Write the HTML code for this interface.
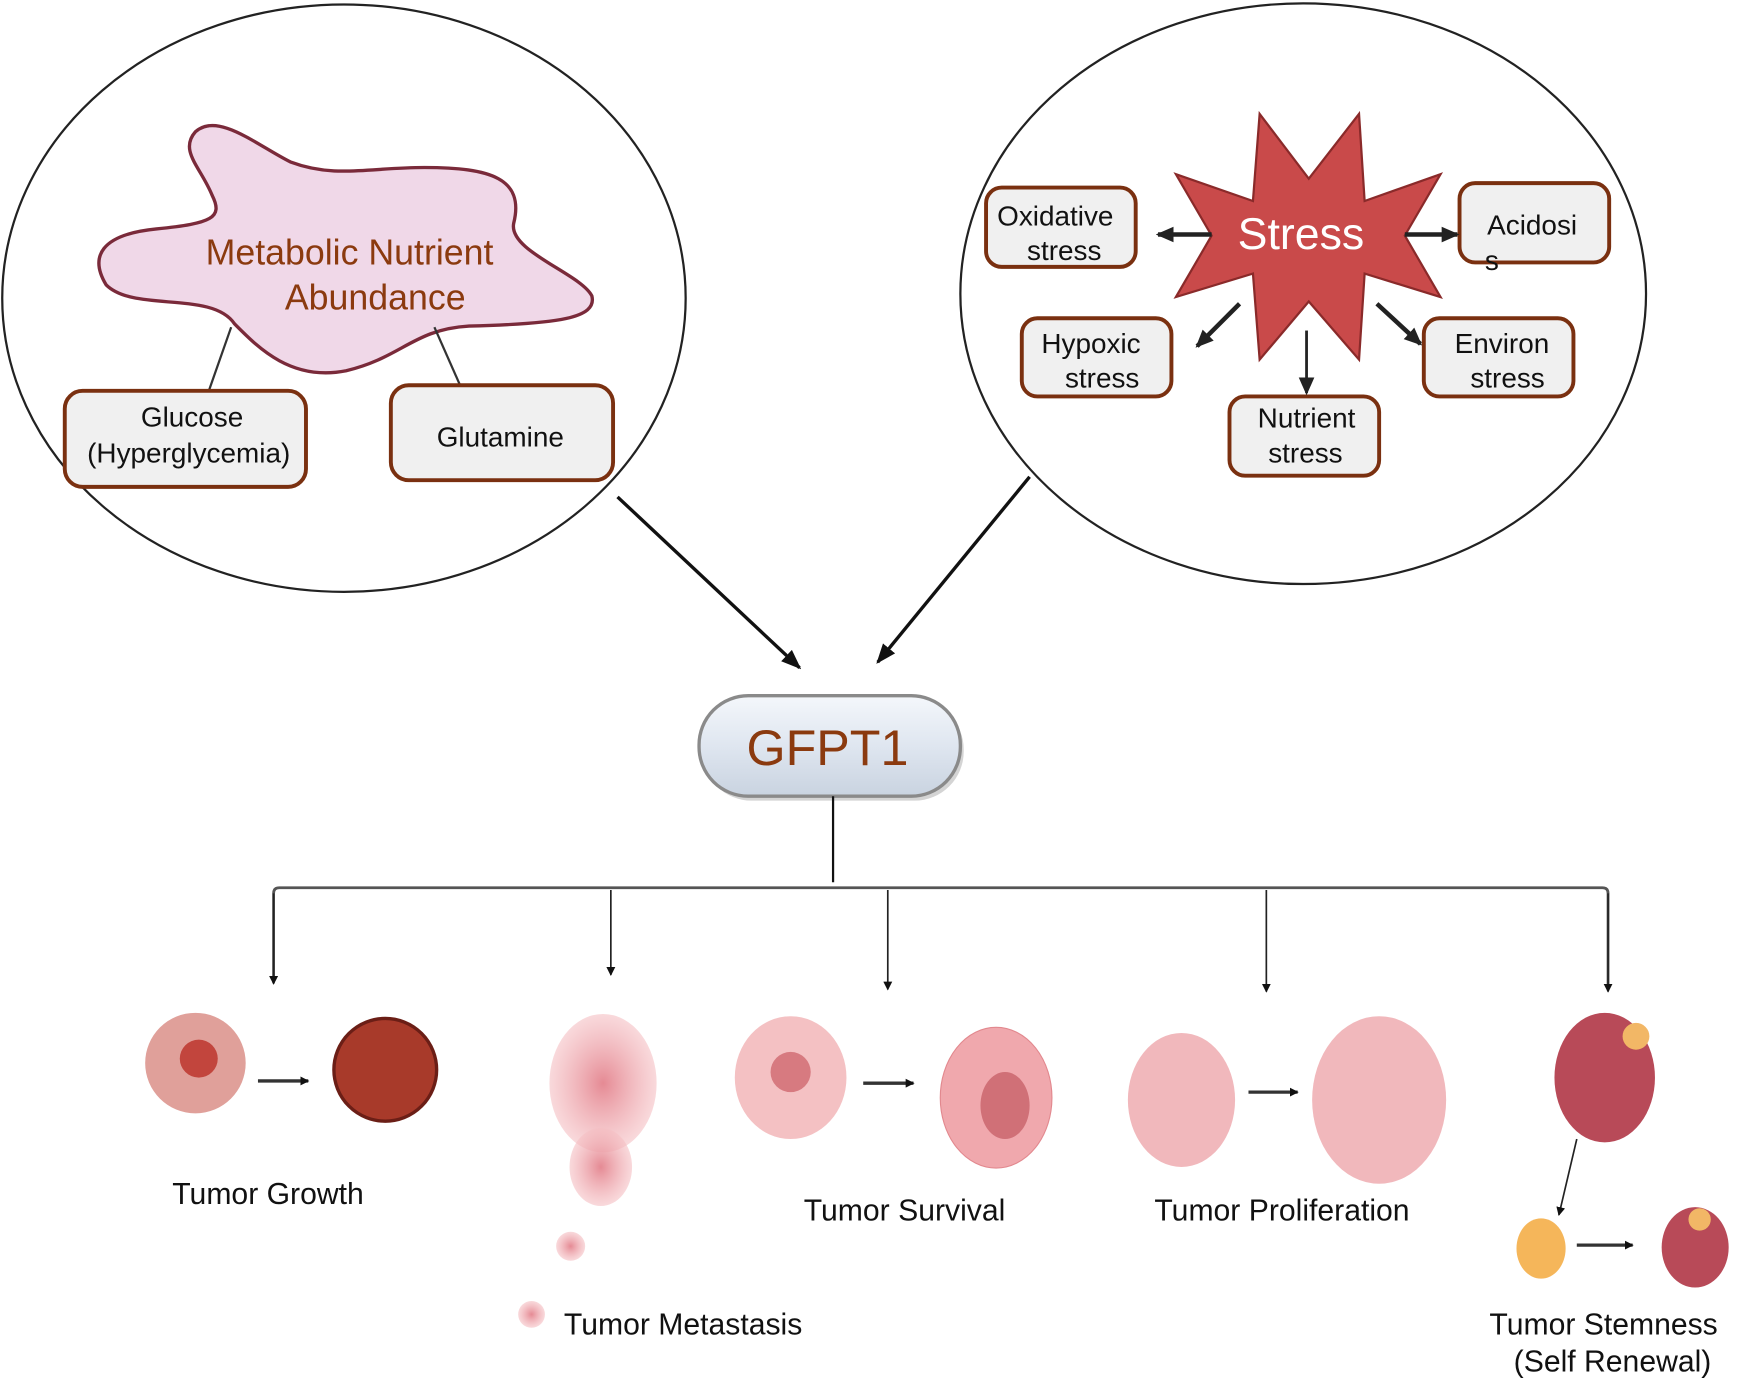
<!DOCTYPE html>
<html><head><meta charset="utf-8"><style>
html,body{margin:0;padding:0;background:#fff;}
svg{display:block;}
text{font-family:"Liberation Sans",sans-serif;}
</style></head><body>
<svg width="1751" height="1378" viewBox="0 0 1568 1234" preserveAspectRatio="none" xmlns="http://www.w3.org/2000/svg">
<defs>
<marker id="a" markerWidth="8" markerHeight="8" refX="7" refY="4" orient="auto" markerUnits="userSpaceOnUse"><path d="M0,0 L8,4 L0,8 Z" fill="#111"/></marker>
<marker id="b" markerWidth="18" markerHeight="18" refX="16" refY="9" orient="auto" markerUnits="userSpaceOnUse"><path d="M0,2 L18,9 L0,16 Z" fill="#111"/></marker>
<marker id="c" markerWidth="16" markerHeight="16" refX="14" refY="8" orient="auto" markerUnits="userSpaceOnUse"><path d="M0,1 L16,8 L0,15 Z" fill="#222"/></marker>
<linearGradient id="g" x1="0" y1="0" x2="0" y2="1"><stop offset="0" stop-color="#f4f7fb"/><stop offset="0.5" stop-color="#dfe6f0"/><stop offset="1" stop-color="#c9d3e0"/></linearGradient>
<radialGradient id="p1"><stop offset="0" stop-color="#e58a94"/><stop offset="1" stop-color="#f5c0c4" stop-opacity="0.6"/></radialGradient>
</defs>
<ellipse cx="308" cy="267" rx="306" ry="263" fill="none" stroke="#222" stroke-width="2"/>
<ellipse cx="1167" cy="263" rx="307" ry="260" fill="none" stroke="#222" stroke-width="2"/>
<path d="M175,118 C195,100 230,130 260,145 C300,160 330,150 380,150 C440,150 470,160 460,200 C455,225 520,245 530,265 C535,285 500,290 420,292 C370,295 360,320 310,332 C260,342 230,310 210,290 C190,260 120,280 95,255 C80,230 90,210 140,205 C190,200 200,195 190,175 C180,150 160,135 175,118 Z" fill="#f0d8e8" stroke="#7a2a3a" stroke-width="3"/>
<text x="313" y="237" font-size="32" fill="#8b3a0f" text-anchor="middle">Metabolic Nutrient</text>
<text x="336" y="277" font-size="32" fill="#8b3a0f" text-anchor="middle">Abundance</text>
<line x1="207" y1="293" x2="187" y2="350" stroke="#333" stroke-width="2"/>
<line x1="389" y1="293" x2="412" y2="345" stroke="#333" stroke-width="2"/>
<g fill="#f0f0f0" stroke="#7a3010" stroke-width="3.5">
<rect x="58" y="350" width="216" height="86" rx="16"/>
<rect x="350" y="345" width="199" height="85" rx="16"/>
<rect x="883" y="168" width="134" height="71" rx="14"/>
<rect x="1307" y="164" width="134" height="71" rx="14"/>
<rect x="915" y="285" width="134" height="70" rx="14"/>
<rect x="1275" y="285" width="134" height="70" rx="14"/>
<rect x="1101" y="355" width="134" height="71" rx="14"/>
</g>
<g font-size="25" fill="#111" text-anchor="middle">
<text x="172" y="382">Glucose</text><text x="169" y="414">(Hyperglycemia)</text>
<text x="448" y="400">Glutamine</text>
<text x="945" y="202">Oxidative</text><text x="953" y="233">stress</text>
<text x="1372" y="210">Acidosi</text><text x="1336" y="242">s</text>
<text x="977" y="316">Hypoxic</text><text x="987" y="347">stress</text>
<text x="1345" y="316">Environ</text><text x="1350" y="347">stress</text>
<text x="1170" y="383">Nutrient</text><text x="1169" y="414">stress</text>
</g>
<path d="M1128,102 L1172,160 L1217,102 L1222,180 L1290,156 L1258,211 L1290,266 L1222,245 L1217,322 L1172,270 L1128,322 L1122,245 L1053,266 L1085,211 L1053,156 L1122,180 Z" fill="#c94a4a" stroke="#8a2a2a" stroke-width="2"/>
<text x="1165" y="223" font-size="40" fill="#fff" text-anchor="middle">Stress</text>
<g stroke="#222" stroke-width="4">
<line x1="1085" y1="210" x2="1037" y2="210" marker-end="url(#c)"/>
<line x1="1258" y1="210" x2="1305" y2="210" marker-end="url(#c)"/>
<line x1="1110" y1="272" x2="1072" y2="310" marker-end="url(#c)"/>
<line x1="1170" y1="296" x2="1170" y2="352" stroke-width="2.5" marker-end="url(#c)"/>
<line x1="1233" y1="272" x2="1272" y2="308" marker-end="url(#c)"/>
</g>
<line x1="553" y1="445" x2="716" y2="598" stroke="#111" stroke-width="3" marker-end="url(#b)"/>
<line x1="922" y1="427" x2="786" y2="593" stroke="#111" stroke-width="3" marker-end="url(#b)"/>
<rect x="629" y="627" width="234" height="90" rx="44" fill="#aaa" opacity="0.5"/>
<rect x="626" y="623" width="234" height="90" rx="44" fill="url(#g)" stroke="#8a8a8a" stroke-width="3"/>
<text x="741" y="685" font-size="45" fill="#8b3a0f" text-anchor="middle">GFPT1</text>
<line x1="746" y1="713" x2="746" y2="790" stroke="#111" stroke-width="2"/>
<path d="M245,880 L245,800 Q245,795 250,795 L1435,795 Q1440,795 1440,800 L1440,887" fill="none" stroke="#555" stroke-width="2.5"/>
<g stroke="#222" stroke-width="1.5">
<line x1="245" y1="800" x2="245" y2="881" marker-end="url(#a)"/>
<line x1="547" y1="797" x2="547" y2="873" marker-end="url(#a)"/>
<line x1="795" y1="797" x2="795" y2="886" marker-end="url(#a)"/>
<line x1="1134" y1="797" x2="1134" y2="888" marker-end="url(#a)"/>
<line x1="1440" y1="800" x2="1440" y2="888" marker-end="url(#a)"/>
</g>
<circle cx="175" cy="952" r="45" fill="#e0a09a"/><circle cx="178" cy="948" r="17" fill="#c2453d"/>
<line x1="231" y1="968" x2="276" y2="968" stroke="#333" stroke-width="3" marker-end="url(#a)"/>
<circle cx="345" cy="958" r="46" fill="#a83a2a" stroke="#6b1e16" stroke-width="3"/>
<ellipse cx="540" cy="970" rx="48" ry="62" fill="url(#p1)"/>
<ellipse cx="538" cy="1045" rx="28" ry="35" fill="url(#p1)"/>
<circle cx="511" cy="1116" r="13" fill="url(#p1)"/><circle cx="476" cy="1177" r="12" fill="url(#p1)"/>
<ellipse cx="708" cy="965" rx="50" ry="55" fill="#f2b6b8" opacity="0.85"/><circle cx="708" cy="960" r="18" fill="#d77a80"/>
<line x1="773" y1="970" x2="818" y2="970" stroke="#333" stroke-width="3" marker-end="url(#a)"/>
<ellipse cx="892" cy="983" rx="50" ry="63" fill="#f0a8ad" stroke="#e2888e"/><ellipse cx="900" cy="990" rx="22" ry="30" fill="#d07077"/>
<ellipse cx="1058" cy="985" rx="48" ry="60" fill="#f0b0b5" opacity="0.9"/>
<line x1="1118" y1="978" x2="1162" y2="978" stroke="#333" stroke-width="3" marker-end="url(#a)"/>
<ellipse cx="1235" cy="985" rx="60" ry="75" fill="#f0b0b5" opacity="0.9"/>
<ellipse cx="1437" cy="965" rx="45" ry="58" fill="#b84a58"/><circle cx="1465" cy="928" r="12" fill="#f2b766"/>
<line x1="1412" y1="1020" x2="1396" y2="1088" stroke="#222" stroke-width="1.5" marker-end="url(#a)"/>
<ellipse cx="1380" cy="1118" rx="22" ry="27" fill="#f5b65a"/>
<line x1="1412" y1="1115" x2="1462" y2="1115" stroke="#333" stroke-width="3" marker-end="url(#a)"/>
<ellipse cx="1518" cy="1117" rx="30" ry="36" fill="#b84a58"/><circle cx="1522" cy="1092" r="10" fill="#f2b766"/>
<g font-size="27" fill="#111">
<text x="240" y="1078" text-anchor="middle">Tumor Growth</text>
<text x="505" y="1195">Tumor Metastasis</text>
<text x="810" y="1093" text-anchor="middle">Tumor  Survival</text>
<text x="1148" y="1093" text-anchor="middle">Tumor Proliferation</text>
<text x="1436" y="1195" text-anchor="middle">Tumor Stemness</text>
<text x="1444" y="1228" text-anchor="middle">(Self Renewal)</text>
</g>
</svg>
</body></html>
